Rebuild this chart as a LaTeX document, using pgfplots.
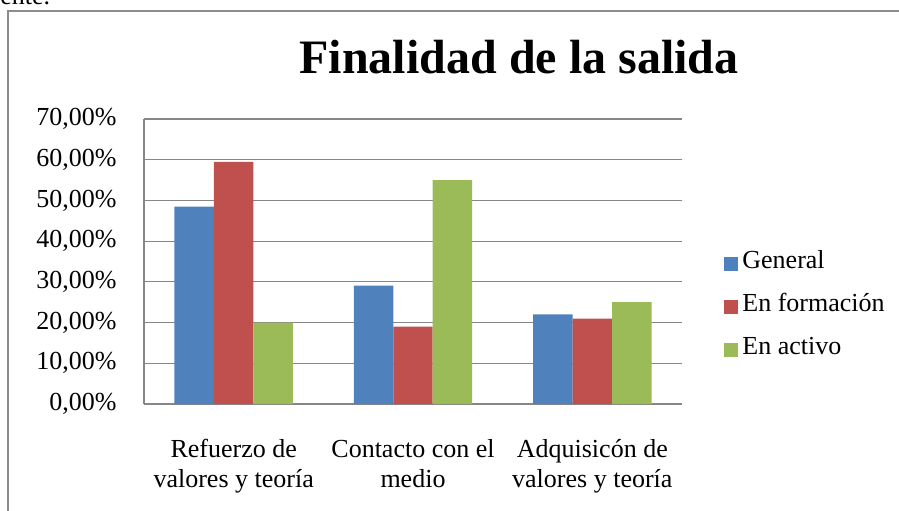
\documentclass[border=0pt]{standalone}
\usepackage{pgfplots}
\pgfplotsset{compat=1.18}
\usepackage{fontspec}
\setmainfont{Liberation Serif}
\definecolor{cBlue}{HTML}{4F81BD}
\definecolor{cRed}{HTML}{C0504D}
\definecolor{cGreen}{HTML}{9BBB59}
\definecolor{cGrid}{HTML}{868686}
\definecolor{cFrame}{HTML}{8C8C8C}
\pgfplotstableread{
x general formacion activo
0 48.5 59.5 20.0
1 29.1 19.0 55.0
2 22.0 21.0 25.0
}\datatable
\begin{document}
\begin{tikzpicture}
\useasboundingbox (0,0) rectangle (449.5pt,255pt);
\clip (0,0) rectangle (449.5pt,255pt);
% surrounding document text and chart frame
\node[anchor=base west, inner sep=0pt, font=\fontsize{13}{15}\selectfont] at (0pt,252.5pt) {ente.};
\draw[cFrame, line width=1pt] (4pt,-10pt) -- (4pt,249.5pt) -- (460pt,249.5pt);
% title
\node[anchor=base, inner sep=0pt, font=\fontsize{24}{28}\selectfont\bfseries] at (259.5pt,218.5pt) {Finalidad de la salida};
\begin{axis}[
  at={(72pt,53pt)}, anchor=south west,
  scale only axis, width=269pt, height=142.5pt,
  ybar=0pt, bar width=0.22,
  xmin=-0.5, xmax=2.5, ymin=0, ymax=70,
  xtick={0,1,2},
  xticklabels={{Refuerzo de\\valores y teoría},{Contacto con el\\medio},{Adquisicón de\\valores y teoría}},
  ytick={0,10,...,70},
  yticklabels={{0,00\%},{10,00\%},{20,00\%},{30,00\%},{40,00\%},{50,00\%},{60,00\%},{70,00\%}},
  major tick length=0pt,
  axis x line*=bottom, axis y line*=left,
  axis line style={cGrid, line width=0.7pt, -},
  ymajorgrids, grid style={cGrid, line width=0.6pt},
  yticklabel style={font=\fontsize{13}{15}\selectfont, anchor=east, inner sep=0pt, xshift=-13.5pt},
  xticklabel style={font=\fontsize{13}{15}\selectfont, align=center, anchor=north, inner sep=0pt, yshift=-17.5pt},
  legend style={draw=none, fill=none, at={(1,0.347)}, anchor=west, xshift=21pt, inner sep=0pt,
    font=\fontsize{13}{15}\selectfont, row sep=9.5pt,
    nodes={inner sep=0pt, text height=9pt, text depth=3pt},
    /tikz/every odd column/.append style={column sep=2pt}},
  legend cell align=left,
  legend image code/.code={\fill[#1, draw=none] (0pt,-4.5pt) rectangle (7pt,2.5pt);},
]
\addplot[fill=cBlue, draw=none] table[x=x, y=general] {\datatable};
\addplot[fill=cRed, draw=none] table[x=x, y=formacion] {\datatable};
\addplot[fill=cGreen, draw=none] table[x=x, y=activo] {\datatable};
\legend{General, En formación, En activo}
\end{axis}
\end{tikzpicture}
\end{document}
